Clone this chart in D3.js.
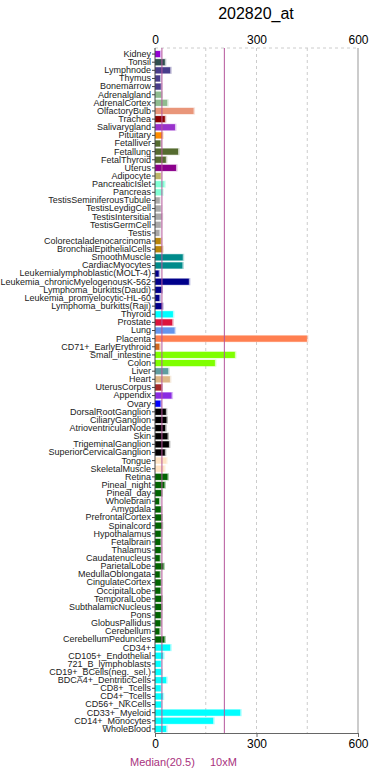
<!DOCTYPE html>
<html>
<head>
<meta charset="utf-8">
<script src="https://cdn.jsdelivr.net/npm/d3@7"></script>
<style>
  body { margin: 0; background: #fff; }
  svg { display: block; font-family: "Liberation Sans", Arial, Helvetica, sans-serif; }
</style>
</head>
<body>
<script>
// tissues, top to bottom
var tissues = ["Kidney", "Tonsil", "Lymphnode", "Thymus", "Bonemarrow", "Adrenalgland", "AdrenalCortex",
  "OlfactoryBulb", "Trachea", "Salivarygland", "Pituitary", "Fetalliver", "Fetallung", "FetalThyroid",
  "Uterus", "Adipocyte", "PancreaticIslet", "Pancreas", "TestisSeminiferousTubule", "TestisLeydigCell",
  "TestisIntersitial", "TestisGermCell", "Testis", "Colorectaladenocarcinoma", "BronchialEpithelialCells",
  "SmoothMuscle", "CardiacMyocytes", "Leukemialymphoblastic(MOLT-4)", "Leukemia_chronicMyelogenousK-562",
  "Lymphoma_burkitts(Daudi)", "Leukemia_promyelocytic-HL-60", "Lymphoma_burkitts(Raji)", "Thyroid",
  "Prostate", "Lung", "Placenta", "CD71+_EarlyErythroid", "Small_intestine", "Colon", "Liver", "Heart",
  "UterusCorpus", "Appendix", "Ovary", "DorsalRootGanglion", "CiliaryGanglion", "AtrioventricularNode",
  "Skin", "TrigeminalGanglion", "SuperiorCervicalGanglion", "Tongue", "SkeletalMuscle", "Retina",
  "Pineal_night", "Pineal_day", "Wholebrain", "Amygdala", "PrefrontalCortex", "Spinalcord",
  "Hypothalamus", "Fetalbrain", "Thalamus", "Caudatenucleus", "ParietalLobe", "MedullaOblongata",
  "CingulateCortex", "OccipitalLobe", "TemporalLobe", "SubthalamicNucleus", "Pons", "GlobusPallidus",
  "Cerebellum", "CerebellumPeduncles", "CD34+", "CD105+_Endothelial", "721_B_lymphoblasts",
  "CD19+_BCells(neg._sel.)", "BDCA4+_DentriticCells", "CD8+_Tcells", "CD4+_Tcells", "CD56+_NKCells",
  "CD33+_Myeloid", "CD14+_Monocytes", "WholeBlood"];

var values = [15, 29, 45, 15, 17, 19, 36,
  114, 29, 59, 21, 16, 68, 32,
  62, 17, 28, 22, 14, 17,
  20, 17, 13, 17, 21,
  82, 81, 11, 100,
  19, 13, 21, 53,
  51, 58, 449, 13, 236, 177, 39, 44,
  19, 49, 16, 32, 34, 30,
  37, 41, 29, 34, 28, 37,
  28, 19, 12, 17, 19, 20,
  17, 16, 17, 14, 25, 14,
  17, 16, 19, 19, 17, 16,
  13, 28, 45, 24, 17,
  19, 33, 17, 23, 18,
  252, 172, 33];

var colors = ["#9400d3", "#2f4f4f", "#483d8b", "#483d8b", "#483d8b", "#8fbc8f", "#8fbc8f",
  "#e9967a", "#8b0000", "#9932cc", "#ff8c00", "#556b2f", "#556b2f", "#556b2f",
  "#8b008b", "#bdb76b", "#7fffd4", "#7fffd4", "#a9a9a9", "#a9a9a9",
  "#a9a9a9", "#a9a9a9", "#a9a9a9", "#b8860b", "#b8860b",
  "#008b8b", "#008b8b", "#00008b", "#00008b",
  "#00008b", "#00008b", "#00008b", "#00ffff",
  "#dc143c", "#6495ed", "#ff7f50", "#d2691e", "#7fff00", "#7fff00", "#5f9ea0", "#deb887",
  "#a52a2a", "#8a2be2", "#0000ff", "#000000", "#000000", "#000000",
  "#000000", "#000000", "#000000", "#ffe4c4", "#ffe4c4", "#006400",
  "#006400", "#006400", "#006400", "#006400", "#006400", "#006400",
  "#006400", "#006400", "#006400", "#006400", "#006400", "#006400",
  "#006400", "#006400", "#006400", "#006400", "#006400", "#006400",
  "#006400", "#006400", "#00ffff", "#00ffff", "#00ffff",
  "#00ffff", "#00ffff", "#00ffff", "#00ffff", "#00ffff",
  "#00ffff", "#00ffff", "#00ffff"];

var xTicks = [0, 300, 600];
var gridDashed = [150, 300, 450];
var median = 20.5;
var title = "202820_at";

var width = 370, height = 772;
var plotLeft = 155, plotRight = 358, plotTop = 48, plotBottom = 733;
var lineColor = "#b5569b";

var svg = d3.select("body").append("svg")
    .attr("width", width)
    .attr("height", height);

var x = d3.scaleLinear().domain([0, 600]).range([plotLeft, plotRight]);
var y = d3.scaleBand()
    .domain(tissues)
    .range([plotTop + 2, plotBottom])
    .paddingInner(0.25)
    .paddingOuter(0.125);

// title
svg.append("text")
    .attr("x", 256)
    .attr("y", 19)
    .attr("text-anchor", "middle")
    .attr("font-size", 16)
    .attr("fill", "#000")
    .text(title);

// dashed grid
svg.append("line")
    .attr("x1", x(0)).attr("x2", plotRight)
    .attr("y1", plotTop).attr("y2", plotTop)
    .attr("stroke", "#cccccc")
    .attr("stroke-dasharray", "3,3");

svg.selectAll(".grid")
    .data(gridDashed)
    .enter().append("line")
    .attr("class", "grid")
    .attr("x1", d => x(d)).attr("x2", d => x(d))
    .attr("y1", plotTop).attr("y2", plotBottom)
    .attr("stroke", "#cccccc")
    .attr("stroke-dasharray", "3,3");

// right border at 600
svg.append("line")
    .attr("x1", x(600)).attr("x2", x(600))
    .attr("y1", plotTop).attr("y2", plotBottom)
    .attr("stroke", "#999999");

// bars, with a pale halo behind each
var rows = tissues.map((t, i) => ({ name: t, value: values[i], color: colors[i] }));

svg.selectAll(".halo")
    .data(rows)
    .enter().append("rect")
    .attr("class", "halo")
    .attr("x", x(0))
    .attr("y", d => y(d.name) - 0.5)
    .attr("width", d => x(d.value) - x(0) + 1.5)
    .attr("height", y.bandwidth() + 1)
    .attr("fill", d => d.color)
    .attr("opacity", 0.3);

svg.selectAll(".bar")
    .data(rows)
    .enter().append("rect")
    .attr("class", "bar")
    .attr("x", x(0))
    .attr("y", d => y(d.name))
    .attr("width", d => x(d.value) - x(0))
    .attr("height", y.bandwidth())
    .attr("fill", d => d.color);

// median and 10x median lines
svg.selectAll(".med")
    .data([median, median * 10])
    .enter().append("line")
    .attr("class", "med")
    .attr("x1", d => x(d)).attr("x2", d => x(d))
    .attr("y1", plotTop).attr("y2", plotBottom)
    .attr("stroke", lineColor)
    .attr("stroke-width", 1);

// y axis
var yAxis = svg.append("g")
    .attr("transform", "translate(" + x(0) + ",0)")
    .call(d3.axisLeft(y).tickSize(3).tickPadding(1));
yAxis.select(".domain").attr("stroke", "#444").attr("d", "M0," + plotTop + "V" + plotBottom);
yAxis.selectAll(".tick line").attr("stroke", "#444");
yAxis.selectAll("text")
    .attr("font-size", 9)
    .attr("font-family", "'Liberation Sans', Arial, sans-serif")
    .attr("fill", "#222");

// top axis labels
var topAxis = svg.append("g")
    .attr("transform", "translate(0," + (plotTop - 1) + ")")
    .call(d3.axisTop(x).tickValues(xTicks).tickSize(0).tickPadding(3));
topAxis.select(".domain").remove();
topAxis.selectAll("text")
    .attr("font-size", 12)
    .attr("font-family", "'Liberation Sans', Arial, sans-serif")
    .attr("fill", "#000");

// bottom axis
var botAxis = svg.append("g")
    .attr("transform", "translate(0," + plotBottom + ")")
    .call(d3.axisBottom(x).tickValues(xTicks).tickSize(4).tickSizeOuter(0).tickPadding(2));
botAxis.select(".domain").attr("stroke", "#666");
botAxis.selectAll(".tick line").attr("stroke", "#666");
botAxis.selectAll("text")
    .attr("font-size", 12)
    .attr("font-family", "'Liberation Sans', Arial, sans-serif")
    .attr("fill", "#000");

// legend text
svg.append("text")
    .attr("x", 130)
    .attr("y", 766)
    .attr("font-size", 11)
    .attr("fill", "#a8327e")
    .text("Median(" + median + ")");
svg.append("text")
    .attr("x", 210)
    .attr("y", 766)
    .attr("font-size", 11)
    .attr("fill", "#a8327e")
    .text("10xM");
</script>
</body>
</html>
